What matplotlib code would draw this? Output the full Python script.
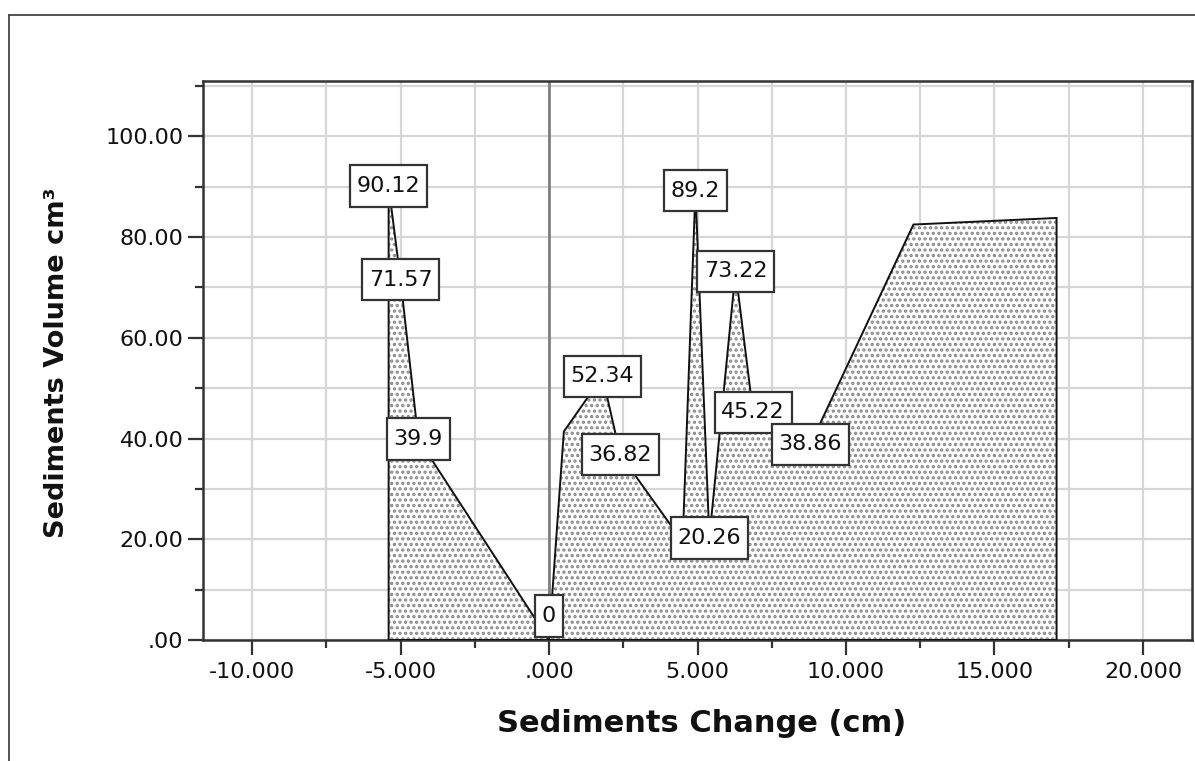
import matplotlib
matplotlib.use("Agg")
import matplotlib.pyplot as plt
from matplotlib.lines import Line2D
from matplotlib.path import Path
from matplotlib.patches import BoxStyle
from matplotlib.ticker import FixedLocator, FuncFormatter

# ---- data ----
sediment_change = [-5.40, -5.00, -4.40, 0.00, 0.50, 1.80, 2.40, 4.50, 4.93, 5.40, 6.28, 6.87, 8.80, 12.27, 17.09]
sediment_volume = [90.12, 71.57, 39.90, 0.00, 41.40, 52.34, 36.82, 19.50, 89.20, 20.26, 73.22, 45.22, 38.86, 82.50, 83.80]
point_labels = ["90.12", "71.57", "39.9", "0", "", "52.34", "36.82", "", "89.2", "20.26",
                "73.22", "45.22", "38.86", "", ""]
x_ticks = [-10, -5, 0, 5, 10, 15, 20]
y_ticks = [0, 20, 40, 60, 80, 100]
x_label = "Sediments Change (cm)"
y_label = "Sediments Volume cm³"

plt.rcParams['font.family'] = ['DejaVu Sans']
plt.rcParams['hatch.linewidth'] = 1.6


class TallSquare(BoxStyle.Square):
    """Square box with separate horizontal / vertical padding."""
    def __init__(self, padx=0.3, pady=0.48):
        self.padx = padx
        self.pady = pady
        self.pad = padx

    def __call__(self, x0, y0, width, height, mutation_size):
        px = mutation_size * self.padx
        py = mutation_size * self.pady
        x0, y0 = x0 - px, y0 - py
        x1, y1 = x0 + width + 2 * px, y0 + height + 2 * py
        return Path._create_closed([(x0, y0), (x1, y0), (x1, y1), (x0, y1)])


W, H = 1195, 761
fig = plt.figure(figsize=(W / 100, H / 100), dpi=100)
ax = fig.add_axes([203 / W, 1 - 640 / H, (1192 - 203) / W, (640 - 81) / H])

ax.set_xlim(-11.65, 21.65)
ax.set_ylim(0, 111)

# grid (major + minor)
ax.xaxis.set_major_locator(FixedLocator(x_ticks))
ax.xaxis.set_minor_locator(FixedLocator([t + 2.5 for t in x_ticks[:-1]] + [-12.5, 22.5]))
ax.yaxis.set_major_locator(FixedLocator(y_ticks))
ax.yaxis.set_minor_locator(FixedLocator([t + 10 for t in y_ticks]))
ax.grid(True, which='both', color='#d6d6d6', lw=1.6, zorder=0)
ax.set_axisbelow(True)


def fmt_x(v, pos):
    s = f"{v:.3f}"
    if s.startswith("0"):
        s = s[1:]
    if s.startswith("-0"):
        s = "-" + s[2:]
    return s


def fmt_y(v, pos):
    s = f"{v:.2f}"
    if s.startswith("0"):
        s = s[1:]
    return s


ax.xaxis.set_major_formatter(FuncFormatter(fmt_x))
ax.yaxis.set_major_formatter(FuncFormatter(fmt_y))

ax.tick_params(which='major', length=11, width=1.6, color='#333333', labelsize=16, labelcolor='#111111')
ax.tick_params(which='minor', length=6, width=1.6, color='#333333')
ax.tick_params(axis='x', which='major', pad=4.5)
ax.tick_params(axis='y', which='major', pad=3)
for sp in ax.spines.values():
    sp.set_color('#333333')
    sp.set_linewidth(1.8)

# reference line at x = 0
ax.axvline(0, color='#808080', lw=2.0, zorder=1)

# area polygon
px = [sediment_change[0]] + sediment_change + [sediment_change[-1]]
py = [0] + sediment_volume + [0]
ax.fill(px, py, facecolor='white', edgecolor='#8a8a8a', hatch='...', lw=0, zorder=2)
ax.fill(px, py, facecolor='none', edgecolor='#111111', lw=1.4, zorder=3)

# point labels
for xv, yv, lab in zip(sediment_change, sediment_volume, point_labels):
    if not lab:
        continue
    box = dict(boxstyle=TallSquare(), fc='white', ec='#333333', lw=1.6)
    if yv == 0:
        ax.annotate(lab, (xv, yv), xytext=(0, 10), textcoords='offset points',
                    ha='center', va='bottom', fontsize=16, color='#111111',
                    bbox=box, zorder=5)
    else:
        ax.text(xv, yv, lab, ha='center', va='center', fontsize=16, color='#111111',
                bbox=box, zorder=5)

# axis titles
fig.text(702 / W, 1 - 724 / H, x_label, ha='center', va='center',
         fontsize=22, fontweight='bold', color='#111111')
fig.text(57 / W, 1 - 363 / H, y_label, ha='center', va='center', rotation=90,
         fontsize=19.5, fontweight='bold', color='#111111')

# outer frame (top and left edges visible)
fig.add_artist(Line2D([9 / W, 1.0], [1 - 15 / H, 1 - 15 / H], transform=fig.transFigure,
                      color='#444444', lw=1.3))
fig.add_artist(Line2D([9 / W, 9 / W], [1 - 15 / H, 0.0], transform=fig.transFigure,
                      color='#444444', lw=1.3))

fig.savefig("out.png", dpi=100, facecolor='white')
